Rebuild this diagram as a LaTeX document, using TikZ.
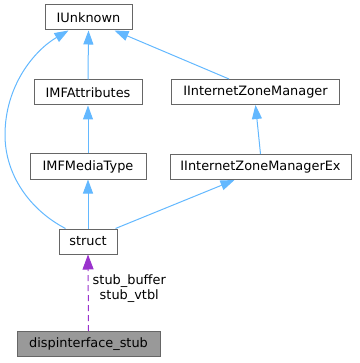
\documentclass[tikz,border=0pt]{standalone}
\usepackage{fontspec}
\setmainfont{DejaVu Sans}
\usetikzlibrary{arrows.meta}
\definecolor{edgeblue}{HTML}{63B8FF}
\definecolor{edgepurple}{HTML}{9A32CD}
\definecolor{boxgray}{HTML}{666666}
\definecolor{fillgray}{HTML}{999999}
\begin{document}
\begin{tikzpicture}[x=1pt,y=-1pt,
  cls/.style={draw=boxgray, fill=white, line width=1pt, rectangle, inner sep=0pt,
    minimum height=25pt, font=\fontsize{12.9}{15}\selectfont, text=black},
  inh/.style={draw=edgeblue, line width=1pt, -{Triangle[length=14pt,width=10pt]}},
  mem/.style={draw=edgepurple, line width=1pt, dash pattern=on 6pt off 4pt,
    -{Triangle[length=15pt,width=11pt]}}]
\useasboundingbox (0,0) rectangle (359,363);
\node[cls, minimum width=87pt]  (iu)   at (88.5,17.5) {IUnknown};
\node[cls, minimum width=108pt] (attr) at (88,92.5) {IMFAttributes};
\node[cls, minimum width=116pt] (mt)   at (88,166.5) {IMFMediaType};
\node[cls, minimum width=168pt] (izm)  at (255.5,92) {IInternetZoneManager};
\node[cls, minimum width=181pt] (izmx) at (260.5,167) {IInternetZoneManagerEx};
\node[cls, minimum width=58pt]  (st)   at (88,241.5) {struct};
\node[cls, fill=fillgray, minimum width=143pt] (ds) at (88.5,344) {dispinterface\_stub};
\draw[inh] (attr.north) -- (iu.south);
\draw[inh] (mt.north) -- (attr.south);
\draw[inh] (st.north) -- (mt.south);
\draw[inh] (izmx.north) -- (izm.south);
\draw[inh] ([xshift=58pt]izm.north west) -- ([xshift=70pt]iu.south west);
\draw[inh] ([xshift=-2pt]st.north east) -- ([xshift=65pt]izmx.south west);
\draw[inh] ([xshift=7pt]st.north west) .. controls (30,210) and (5,175) .. (5,135)
  .. controls (5,85) and (35,50) .. ([xshift=24pt]iu.south west);
\draw[mem] (ds.north) -- (st.south)
  node[pos=0.55, right=3pt, align=center, font=\fontsize{12.9}{15}\selectfont, inner sep=1pt] (lbl)
  {stub\_buffer\\stub\_vtbl};
\end{tikzpicture}
\end{document}
